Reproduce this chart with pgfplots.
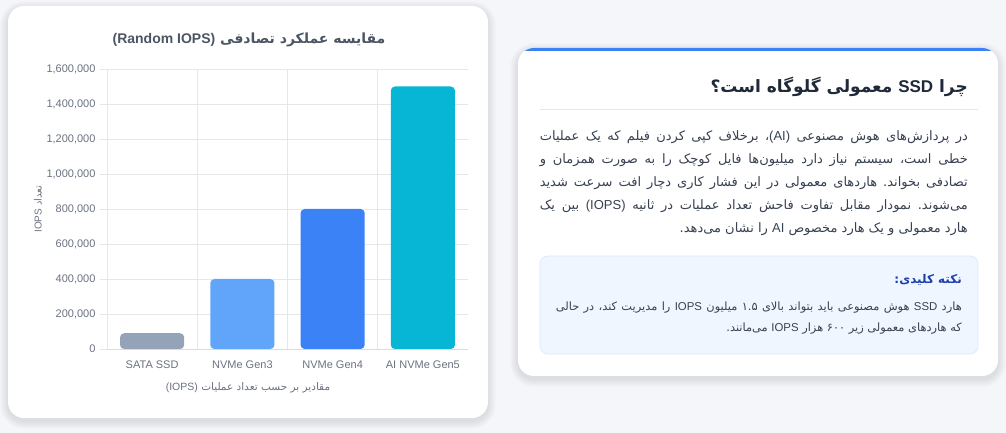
\documentclass[border=0pt]{standalone}
\usepackage{fontspec}
\usepackage{pgfplots}
\pgfplotsset{compat=1.18}
\TeXXeTstate=1
\frenchspacing
\setmainfont{Liberation Sans}
\newfontfamily\fa[Script=Arabic]{DejaVu Sans}
\newfontfamily\lat{Liberation Sans}
\newcommand{\lr}[1]{{\lat\beginL#1\endL}}
\newcommand{\rl}[1]{\beginR#1\endR}
\definecolor{bg}{HTML}{F4F6F9}
\definecolor{gridc}{HTML}{E5E7EB}
\definecolor{axisc}{HTML}{D9DCE1}
\definecolor{tickc}{HTML}{6B7280}
\definecolor{titlec}{HTML}{4B5563}
\definecolor{bodyc}{HTML}{374151}
\definecolor{headc}{HTML}{1F2937}
\definecolor{notec}{HTML}{1E40AF}
\definecolor{notebg}{HTML}{EFF6FF}
\definecolor{noteln}{HTML}{DBEAFE}
\definecolor{blueb}{HTML}{3B82F6}
\definecolor{cA}{HTML}{94A3B8}
\definecolor{cB}{HTML}{60A5FA}
\definecolor{cC}{HTML}{3B82F6}
\definecolor{cD}{HTML}{06B6D4}
\begin{document}
\frenchspacing
\begin{tikzpicture}[x=1pt,y=1pt]
% background
\fill[bg] (0,0) rectangle (1006,433);
% shadows
\foreach \i in {1,...,8}{
  \fill[black,opacity=0.010,rounded corners={(16+\i)*1pt}] (8-\i,15-\i-3) rectangle (488+\i,427+\i-3);
  \fill[black,opacity=0.010,rounded corners={(16+\i)*1pt}] (518-\i,57-\i-3) rectangle (998+\i,385+\i-3);
}
% cards
\fill[white,rounded corners=16pt] (8,15) rectangle (488,427);
\fill[white,rounded corners=16pt] (518,57) rectangle (998,385);
\begin{scope}
  \clip[rounded corners=16pt] (518,57) rectangle (998,385);
  \fill[blueb] (518,382) rectangle (998,386);
\end{scope}
% chart
\begin{axis}[
  at={(107pt,84pt)}, anchor=south west,
  width=361pt, height=280pt, scale only axis,
  axis x line*=bottom, axis y line*=left,
  xmin=-0.5, xmax=3.5, ymin=0, ymax=1600000,
  ybar, bar width=64pt, bar shift=0pt,
  xtick={0,1,2,3},
  xticklabels={SATA SSD,NVMe Gen3,NVMe Gen4,AI NVMe Gen5},
  major x tick style={draw=none},
  extra x ticks={-0.5,0.5,1.5,2.5},
  extra x tick labels={},
  extra x tick style={xmajorgrids=true, major tick length=7pt, tick style={draw=gridc, line width=0.8pt}},
  ytick={0,200000,400000,600000,800000,1000000,1200000,1400000,1600000},
  ymajorgrids,
  grid style={draw=gridc, line width=0.8pt},
  scaled y ticks=false,
  /pgf/number format/fixed,
  /pgf/number format/1000 sep={,},
  /pgf/number format/assume math mode=true,
  tick align=outside, major tick length=7pt,
  ytick style={draw=gridc, line width=0.8pt},
  axis line style={draw=axisc, line width=0.8pt},
  tick label style={font=\fontsize{11}{11}\selectfont, text=tickc},
  xticklabel style={yshift=-1pt},
  yticklabel style={xshift=-1pt},
  clip=false,
]
\addplot[fill=cA, draw=none, rounded corners=4pt] coordinates {(0,90000)};
\addplot[fill=cB, draw=none, rounded corners=4pt] coordinates {(1,400000)};
\addplot[fill=cC, draw=none, rounded corners=4pt] coordinates {(2,800000)};
\addplot[fill=cD, draw=none, rounded corners=4pt] coordinates {(3,1500000)};
\end{axis}
% chart texts
\node[anchor=base, inner sep=0, text=titlec] at (249,389)
  {\fontsize{14}{14}\fa\bfseries\rl{مقایسه عملکرد تصادفی \lr{(Random IOPS)}}};
\node[anchor=center, inner sep=0, text=tickc, rotate=90] at (38,224)
  {\fontsize{10}{10}\fa\rl{تعداد \lr{IOPS}}};
\node[anchor=base, inner sep=0, text=tickc] at (248,42)
  {\fontsize{10.5}{10.5}\fa\rl{مقادیر بر حسب تعداد عملیات \lr{(IOPS)}}};
% right card
\node[anchor=base east, inner sep=0, text=headc] at (968,340)
  {\fontsize{17}{17}\fa\bfseries\rl{چرا \lr{SSD} معمولی گلوگاه است؟}};
\draw[gridc, line width=0.8pt] (540,324) -- (978,324);
\begin{scope}[every node/.style={anchor=base east, inner sep=0, text=bodyc}]
\node at (968,292) {\fontsize{13}{13}\fa\hbox to 428pt{\rl{در پردازش^^^^200cهای هوش مصنوعی \lr{(AI)}، برخلاف کپی کردن فیلم که یک عملیات}}};
\node at (968,269) {\fontsize{13}{13}\fa\hbox to 428pt{\rl{خطی است، سیستم نیاز دارد میلیون^^^^200cها فایل کوچک را به صورت همزمان و}}};
\node at (968,246) {\fontsize{13}{13}\fa\hbox to 428pt{\rl{تصادفی بخواند. هاردهای معمولی در این فشار کاری دچار افت سرعت شدید}}};
\node at (968,223) {\fontsize{13}{13}\fa\hbox to 428pt{\rl{می^^^^200cشوند. نمودار مقابل تفاوت فاحش تعداد عملیات در ثانیه \lr{(IOPS)} بین یک}}};
\node at (968,200) {\fontsize{13}{13}\fa\rl{هارد معمولی و یک هارد مخصوص \lr{AI} را نشان می^^^^200cدهد.}};
\end{scope}
% note box
\filldraw[fill=notebg, draw=noteln, line width=0.8pt, rounded corners=8pt] (540,79) rectangle (978,177);
\node[anchor=base east, inner sep=0, text=notec] at (962,149)
  {\fontsize{12}{12}\fa\bfseries\rl{نکته کلیدی:}};
\begin{scope}[every node/.style={anchor=base east, inner sep=0, text=bodyc}]
\node at (962,122) {\fontsize{11.4}{11.4}\fa\hbox to 406pt{\rl{هارد \lr{SSD} هوش مصنوعی باید بتواند بالای ۱.۵ میلیون \lr{IOPS} را مدیریت کند، در حالی}}};
\node at (962,101) {\fontsize{11.4}{11.4}\fa\rl{که هاردهای معمولی زیر ۶۰۰ هزار \lr{IOPS} می^^^^200cمانند.}};
\end{scope}
\pgfresetboundingbox
\useasboundingbox (0,0) rectangle (1006,433);
\end{tikzpicture}
\end{document}
